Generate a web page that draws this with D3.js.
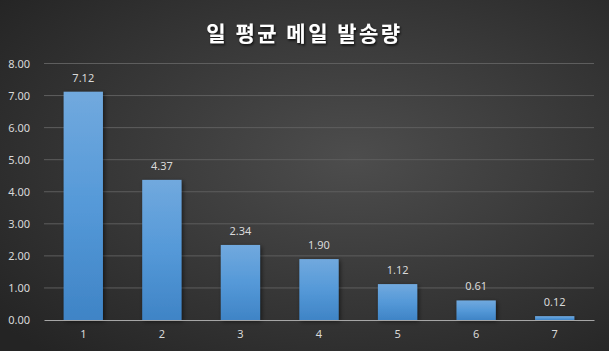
<!DOCTYPE html>
<html>
<head>
<meta charset="utf-8">
<script src="https://cdn.jsdelivr.net/npm/d3@7"></script>
<style>
  html, body { margin: 0; padding: 0; background: #2b2b2b; }
  svg { display: block; }
</style>
</head>
<body>
<div id="chart"></div>
<script>
// 데이터
const categories = ["1", "2", "3", "4", "5", "6", "7"];
const values = [7.12, 4.37, 2.34, 1.90, 1.12, 0.61, 0.12];
const yTicks = [0, 1, 2, 3, 4, 5, 6, 7, 8];
const title = "일 평균 메일 발송량";

const width = 609, height = 351;
const margin = { top: 63.5, right: 15, bottom: 31, left: 44 };

const svg = d3.select("#chart").append("svg")
  .attr("width", width)
  .attr("height", height);

const defs = svg.append("defs");

// 배경 그라데이션
const bg = defs.append("radialGradient")
  .attr("id", "bg")
  .attr("cx", "58%").attr("cy", "45%").attr("r", "75%");
bg.append("stop").attr("offset", "0%").attr("stop-color", "#4d4d4d");
bg.append("stop").attr("offset", "100%").attr("stop-color", "#242424");

// 막대 그라데이션
const barGrad = defs.append("linearGradient")
  .attr("id", "barGrad")
  .attr("x1", 0).attr("y1", 0).attr("x2", 0).attr("y2", 1);
barGrad.append("stop").attr("offset", "0%").attr("stop-color", "#71a9de");
barGrad.append("stop").attr("offset", "50%").attr("stop-color", "#5599d8");
barGrad.append("stop").attr("offset", "100%").attr("stop-color", "#3f84c6");

const shadow = defs.append("filter").attr("id", "shadow")
  .attr("x", "-20%").attr("y", "-20%").attr("width", "150%").attr("height", "150%");
shadow.append("feDropShadow")
  .attr("dx", 1.5).attr("dy", 1.5).attr("stdDeviation", 2)
  .attr("flood-color", "#000").attr("flood-opacity", 0.55);

const titleShadow = defs.append("filter").attr("id", "titleShadow");
titleShadow.append("feDropShadow")
  .attr("dx", 1).attr("dy", 1.5).attr("stdDeviation", 1)
  .attr("flood-color", "#000").attr("flood-opacity", 0.8);

svg.append("rect")
  .attr("width", width).attr("height", height)
  .attr("fill", "url(#bg)");

// 스케일
const x = d3.scaleBand()
  .domain(categories)
  .range([margin.left, width - margin.right])
  .paddingInner(0.5)
  .paddingOuter(0.25);

const y = d3.scaleLinear()
  .domain([0, 8])
  .range([height - margin.bottom, margin.top]);

// 격자선
svg.append("g")
  .selectAll("line")
  .data(yTicks.filter(d => d > 0))
  .join("line")
  .attr("x1", margin.left)
  .attr("x2", width - margin.right)
  .attr("y1", d => y(d))
  .attr("y2", d => y(d))
  .attr("stroke", "#5e5e5e")
  .attr("stroke-width", 1);

// y축 라벨
const yAxis = d3.axisLeft(y)
  .tickValues(yTicks)
  .tickFormat(d3.format(".2f"))
  .tickSize(0)
  .tickPadding(14);

svg.append("g")
  .attr("transform", `translate(${margin.left},0)`)
  .call(yAxis)
  .call(g => g.select(".domain").remove())
  .selectAll("text")
  .attr("fill", "#d9d9d9")
  .attr("font-family", "'Noto Sans', 'DejaVu Sans', sans-serif")
  .attr("font-size", "11px");

// 막대
svg.append("g")
  .selectAll("rect")
  .data(values)
  .join("rect")
  .attr("x", (d, i) => x(categories[i]))
  .attr("y", d => y(d))
  .attr("width", x.bandwidth())
  .attr("height", d => y(0) - y(d))
  .attr("fill", "url(#barGrad)")
  .style("filter", "url(#shadow)");

// 값 라벨
svg.append("g")
  .selectAll("text")
  .data(values)
  .join("text")
  .attr("x", (d, i) => x(categories[i]) + x.bandwidth() / 2)
  .attr("y", d => y(d) - 10)
  .attr("text-anchor", "middle")
  .attr("fill", "#d9d9d9")
  .attr("font-family", "'Noto Sans', 'DejaVu Sans', sans-serif")
  .attr("font-size", "11px")
  .text(d => d.toFixed(2));

// x축
const xAxis = d3.axisBottom(x).tickSize(0).tickPadding(10);
svg.append("g")
  .attr("transform", `translate(0,${y(0)})`)
  .call(xAxis)
  .call(g => g.select(".domain")
    .attr("stroke", "#a6a6a6")
    .attr("stroke-width", 1.2))
  .selectAll("text")
  .attr("fill", "#d9d9d9")
  .attr("font-family", "'Noto Sans', 'DejaVu Sans', sans-serif")
  .attr("font-size", "11px");

// 제목
svg.append("text")
  .attr("x", width / 2)
  .attr("y", 41)
  .attr("text-anchor", "middle")
  .attr("fill", "#ffffff")
  .attr("font-family", "'Noto Sans CJK KR', sans-serif")
  .attr("font-weight", "bold")
  .attr("font-size", "21px")
  .attr("letter-spacing", "2.5px")
  .style("filter", "url(#titleShadow)")
  .text(title);
</script>
</body>
</html>
